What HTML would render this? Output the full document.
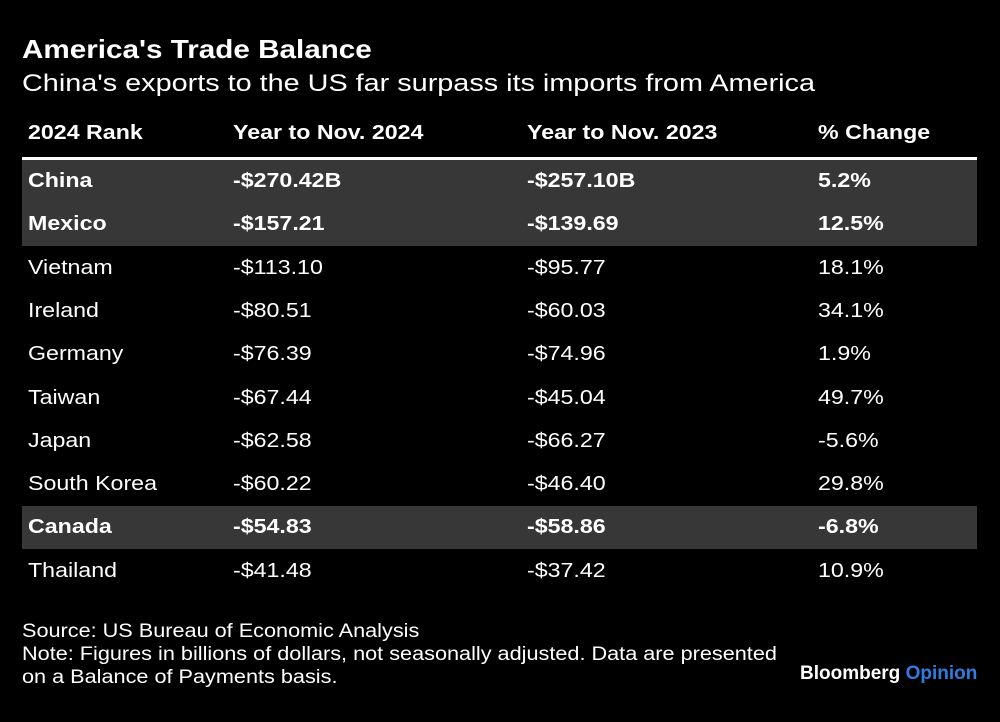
<!DOCTYPE html>
<html><head><meta charset="utf-8"><style>
body{margin:0;width:1000px;height:722px;background:#000;color:#fff;font-family:"Liberation Sans",sans-serif;position:relative;overflow:hidden}
.a{position:absolute;white-space:nowrap;transform-origin:0 50%}
.row{position:absolute;left:22px;width:955px;height:43px}
.row.hl{background:#373737}
.c{position:absolute;top:0;line-height:43px;font-size:20px;white-space:nowrap;transform:scaleX(1.16);transform-origin:0 50%}
.b{font-weight:bold}
</style></head><body>
<div class="a b" style="left:22px;top:34px;font-size:26px;transform:scaleX(1.14)">America's Trade Balance</div>
<div class="a" style="left:22px;top:70px;font-size:24px;transform:scaleX(1.2)">China's exports to the US far surpass its imports from America</div>
<div class="row b" style="top:112px">
<div class="c" style="left:6px">2024 Rank</div><div class="c" style="left:211px">Year to Nov. 2024</div><div class="c" style="left:505px">Year to Nov. 2023</div><div class="c" style="left:796px">% Change</div></div>
<div class="a" style="left:22px;top:157px;width:955px;height:3px;background:#fff"></div>
<div id="tbl"></div>
<div class="a" style="left:22px;top:620px;font-size:19px;line-height:23px;transform:scaleX(1.14)">Source: US Bureau of Economic Analysis<br>Note: Figures in billions of dollars, not seasonally adjusted. Data are presented<br>on a Balance of Payments basis.</div>
<div class="a b" style="left:800px;top:663px;font-size:19px">Bloomberg <span style="color:#2f7de1">Opinion</span></div>
<script>
const countries=["China","Mexico","Vietnam","Ireland","Germany","Taiwan","Japan","South Korea","Canada","Thailand"];
const y2024=["-$270.42B","-$157.21","-$113.10","-$80.51","-$76.39","-$67.44","-$62.58","-$60.22","-$54.83","-$41.48"];
const y2023=["-$257.10B","-$139.69","-$95.77","-$60.03","-$74.96","-$45.04","-$66.27","-$46.40","-$58.86","-$37.42"];
const pct=["5.2%","12.5%","18.1%","34.1%","1.9%","49.7%","-5.6%","29.8%","-6.8%","10.9%"];
const highlighted=["China","Mexico","Canada"];
const tbl=document.getElementById('tbl');
countries.forEach((c,i)=>{
 const r=document.createElement('div');
 r.className='row'+(highlighted.includes(c)?' hl b':'');
 r.style.top=(160+i*43.3)+'px';
 
 
 [[c,6],[y2024[i],211],[y2023[i],505],[pct[i],796]].forEach(([t,x])=>{
  const d=document.createElement('div');d.className='c';d.style.left=x+'px';d.textContent=t;
  
  
  r.appendChild(d);
 });
 tbl.appendChild(r);
});
</script>
</body></html>
